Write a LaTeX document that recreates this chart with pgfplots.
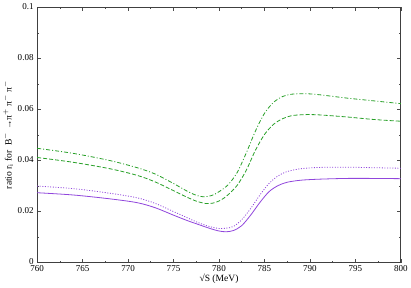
\documentclass[border=0pt]{standalone}
\usepackage{pgfplots}
\pgfplotsset{compat=1.18}
\usepackage{fontspec}
\setmainfont{Liberation Serif}
\definecolor{cgreen}{RGB}{40,160,40}
\definecolor{cpurple}{RGB}{145,70,220}
\begin{document}
\begin{tikzpicture}
\begin{axis}[
  scale only axis,
  width=362pt, height=254pt,
  xmin=760, xmax=800, ymin=0, ymax=0.1,
  xtick={760,765,...,800},
  minor x tick num=1,
  ytick={0,0.02,0.04,0.06,0.08,0.1},
  yticklabels={0,0.02,0.04,0.06,0.08,0.1},
  minor y tick num=1,
  tick align=inside,
  major tick length=4pt, minor tick length=2pt,
  tick style={black!70, line width=0.6pt},
  axis line style={black!75, line width=0.8pt},
  /pgf/number format/assume math mode=true,
  tick label style={font=\fontsize{9}{10}\selectfont},
  xticklabel style={yshift=1pt},
  yticklabel style={yshift=1pt},
  label style={font=\fontsize{9.5}{10}\selectfont},
  xlabel={√S (MeV)},
  xlabel style={yshift=4pt},
  ylabel={ratio r$_\mathrm{i}$ for\ \ B$^-$ →π$^+$ π$^-$ π$^-$},
  ylabel style={yshift=-2pt},
  every axis plot/.append style={line width=0.8pt, smooth},
]
% dash-dot green
\addplot[cgreen, dash pattern=on 4pt off 2pt on 1pt off 2pt] coordinates {
(760,0.0448) (764,0.0428) (768,0.0400) (771,0.0372) (773,0.0347) (775,0.0310)
(776.5,0.0280) (777.5,0.0264) (778.3,0.0258) (779.2,0.0263) (780,0.0278)
(781,0.0305) (782,0.0353) (783,0.0430) (784,0.0515) (785,0.0585) (786,0.0628)
(787,0.0651) (788,0.0660) (789.5,0.0662) (791,0.0658) (794,0.0645) (797,0.0634)
(800,0.0623)};
% dashed green
\addplot[cgreen, dash pattern=on 4pt off 2pt] coordinates {
(760,0.0412) (764,0.0393) (768,0.0368) (771,0.0342) (773,0.0316) (775,0.0282)
(776.5,0.0256) (777.5,0.0241) (778.5,0.0232) (779.3,0.0233) (780.2,0.0245)
(781,0.0266) (782,0.0303) (783,0.0362) (784,0.0440) (785,0.0502) (786,0.0542)
(787,0.0564) (788,0.0576) (789.5,0.0580) (791,0.0579) (794,0.0571) (797,0.0561)
(800,0.0554)};
% dotted purple
\addplot[cpurple, dash pattern=on 1pt off 1.6pt] coordinates {
(760,0.0300) (764,0.0290) (768,0.0272) (771,0.0254) (773,0.0232) (775,0.0200)
(776.5,0.0176) (777.7,0.0157) (779,0.0141) (780,0.0134) (780.8,0.0135)
(781.6,0.0142) (782.5,0.0168) (783.5,0.0213) (784.5,0.0265) (785.5,0.0310)
(786.5,0.0340) (787.5,0.0357) (789,0.0368) (791,0.0373) (794,0.0374)
(797,0.0372) (800,0.0370)};
% solid purple
\addplot[cpurple] coordinates {
(760,0.0274) (764,0.0265) (768,0.0250) (771,0.0235) (773,0.0215) (775,0.0186)
(776.5,0.0165) (777.7,0.0150) (779,0.0134) (780,0.0124) (780.8,0.0121)
(781.6,0.0126) (782.5,0.0145) (783.5,0.0187) (784.5,0.0236) (785.5,0.0278)
(786.5,0.0302) (787.5,0.0315) (789,0.0323) (791,0.0327) (794,0.0330)
(797,0.0330) (800,0.0329)};
\end{axis}
\end{tikzpicture}
\end{document}
